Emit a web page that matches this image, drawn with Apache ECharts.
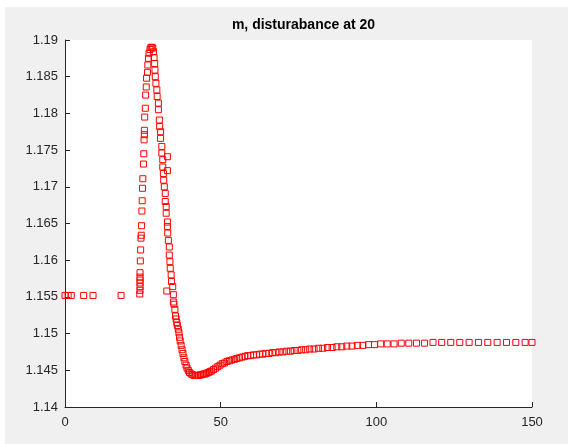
<!DOCTYPE html>
<html>
<head>
<meta charset="utf-8">
<script src="https://cdn.jsdelivr.net/npm/echarts@6/dist/echarts.min.js"></script>
<style>
html,body{margin:0;padding:0;background:#fff;}
#chart{position:absolute;left:5px;top:7px;width:563px;height:437px;background:#f0f0f0;}
</style>
</head>
<body>
<div id="chart"></div>
<script>
// Tick labels
const xTicks = [0, 50, 100, 150];
const yTicks = [1.14, 1.145, 1.15, 1.155, 1.16, 1.165, 1.17, 1.175, 1.18, 1.185, 1.19];

// Steady state before disturbance
const preX = [0, 1, 2, 6, 9, 18];
const preY = [1.1552, 1.1552, 1.1552, 1.1552, 1.1552, 1.1552];

// Rising edge
const riseX = [24.0, 24.1, 24.1, 24.1, 24.1, 24.1, 24.1, 24.2, 24.3, 24.4, 24.5, 24.6, 24.7, 24.8, 24.9, 25.0, 25.2, 25.3, 25.4, 25.5, 25.5, 25.6, 25.8, 25.9, 26.1, 26.2, 26.5, 26.6, 26.8, 27.0, 27.3, 27.6, 27.9, 28.2];
const riseY = [1.1554, 1.1559, 1.1564, 1.1569, 1.1573, 1.1577, 1.1583, 1.1599, 1.1614, 1.1630, 1.1634, 1.1647, 1.1667, 1.1681, 1.1698, 1.1711, 1.1731, 1.1745, 1.1764, 1.1771, 1.1777, 1.1795, 1.1807, 1.1825, 1.1836, 1.1848, 1.1856, 1.1866, 1.1875, 1.1882, 1.1887, 1.1890, 1.1890, 1.1889];

// Falling edge down to the minimum
const fallX = [28.4, 28.6, 28.8, 28.9, 29.0, 29.2, 29.5, 29.6, 30.0, 30.0, 30.3, 30.4, 30.7, 30.7, 31.1, 31.1, 31.4, 31.4, 31.6, 31.7, 31.9, 32.2, 32.2, 32.5, 32.5, 32.9, 32.9, 33.0, 33.2, 33.5, 33.5, 33.7, 33.8, 34.1, 34.2, 34.6, 34.8, 34.8, 35.0, 35.3, 35.5, 35.7, 35.9, 36.1, 36.4, 36.6, 36.8, 37.0, 37.3, 37.6, 37.9, 38.2, 38.5, 38.9, 39.2, 39.6, 40.0, 40.5, 41.0, 41.5, 42.0, 42.5];
const fallY = [1.1884, 1.1876, 1.1868, 1.1859, 1.1850, 1.1841, 1.1832, 1.1823, 1.1814, 1.1805, 1.1791, 1.1782, 1.1775, 1.1766, 1.1755, 1.1746, 1.1737, 1.1727, 1.1718, 1.1709, 1.1700, 1.1691, 1.1680, 1.1673, 1.1664, 1.1652, 1.1646, 1.1637, 1.1627, 1.1618, 1.1607, 1.1598, 1.1589, 1.1580, 1.1571, 1.1564, 1.1553, 1.1543, 1.1540, 1.1533, 1.1524, 1.1520, 1.1515, 1.1511, 1.1506, 1.1501, 1.1495, 1.1490, 1.1484, 1.1478, 1.1473, 1.1467, 1.1462, 1.1457, 1.1453, 1.1450, 1.1447, 1.1445, 1.1444, 1.1443, 1.1443, 1.1443];

// Stray points off the main curve
const strayX = [32.9, 32.9, 32.7];
const strayY = [1.1741, 1.1722, 1.1558];

// Slow recovery to the new level
const recX = [43, 43.5, 44, 44.5, 45, 45.5, 46, 46.5, 47, 47.7, 48.4, 49.1, 49.8, 50.5, 51.2, 52, 52.8, 53.6, 54.4, 55.2, 56, 56.9, 57.8, 58.7, 59.6, 60.5, 61.5, 62.5, 63.5, 64.5, 65.5, 66.6, 67.7, 68.8, 70, 71.2, 72.4, 73.6, 74.8, 76, 77.3, 78.6, 80, 81.4, 82.8, 84.3, 85.8, 87.3, 88.9, 90.5, 92.2, 93.9, 95.7, 97.5, 99.4, 101.4, 103.5, 105.7, 108, 110.4, 112.9, 115.5, 118.2, 121, 123.9, 126.8, 129.8, 132.8, 135.8, 138.8, 141.8, 144.8, 147.8, 150];
const recY = [1.1443, 1.1444, 1.1444, 1.1445, 1.1445, 1.1446, 1.1447, 1.1448, 1.1449, 1.1451, 1.1453, 1.1455, 1.1457, 1.1459, 1.1460, 1.1462, 1.1463, 1.1464, 1.1465, 1.1466, 1.1467, 1.1468, 1.1469, 1.1470, 1.1470, 1.1471, 1.1471, 1.1472, 1.1472, 1.1473, 1.1473, 1.1474, 1.1474, 1.1475, 1.1475, 1.1476, 1.1476, 1.1477, 1.1477, 1.1478, 1.1478, 1.1479, 1.1479, 1.1480, 1.1480, 1.1481, 1.1481, 1.1482, 1.1482, 1.1483, 1.1483, 1.1484, 1.1484, 1.1485, 1.1485, 1.1486, 1.1486, 1.1486, 1.1487, 1.1487, 1.1487, 1.1487, 1.1488, 1.1488, 1.1488, 1.1488, 1.1488, 1.1488, 1.1488, 1.1488, 1.1488, 1.1488, 1.1488, 1.1488];

function pairs(xs, ys) { return xs.map((x, i) => [x, ys[i]]); }
const data = [].concat(
  pairs(preX, preY), pairs(riseX, riseY), pairs(fallX, fallY),
  pairs(strayX, strayY), pairs(recX, recY)
);

const axisColor = '#262626';
const font = 'Liberation Sans, Arial, Helvetica, sans-serif';
const chart = echarts.init(document.getElementById('chart'), null, {renderer: 'canvas'});
chart.setOption({
  animation: false,
  backgroundColor: 'transparent',
  title: {
    text: 'm, disturabance at 20',
    left: 293.5,
    top: 6,
    textAlign: 'center',
    textStyle: {fontFamily: font, fontSize: 14, fontWeight: 'bold', color: '#000'}
  },
  grid: {
    left: 60, top: 33, right: 36, bottom: 37,
    show: true, backgroundColor: '#ffffff', borderWidth: 0
  },
  xAxis: {
    type: 'value', min: xTicks[0], max: xTicks[xTicks.length - 1], interval: 50,
    axisLine: {show: true, onZero: false, lineStyle: {color: axisColor, width: 1}},
    axisTick: {show: true, inside: true, length: 5, lineStyle: {color: axisColor}},
    axisLabel: {color: axisColor, fontSize: 13, fontFamily: font, margin: 9},
    splitLine: {show: false}
  },
  yAxis: {
    type: 'value', min: yTicks[0], max: yTicks[yTicks.length - 1], interval: 0.005,
    axisLine: {show: true, onZero: false, lineStyle: {color: axisColor, width: 1}},
    axisTick: {show: true, inside: true, length: 5, lineStyle: {color: axisColor}},
    axisLabel: {color: axisColor, fontSize: 13, fontFamily: font, margin: 7,
      formatter: v => String(+v.toFixed(3))},
    splitLine: {show: false}
  },
  series: [{
    type: 'scatter',
    symbol: 'rect',
    symbolSize: 6,
    data: data,
    itemStyle: {color: 'rgba(255,255,255,0)', borderColor: '#ff0000', borderWidth: 1, opacity: 1},
    emphasis: {disabled: true}
  }]
});
</script>
</body>
</html>
